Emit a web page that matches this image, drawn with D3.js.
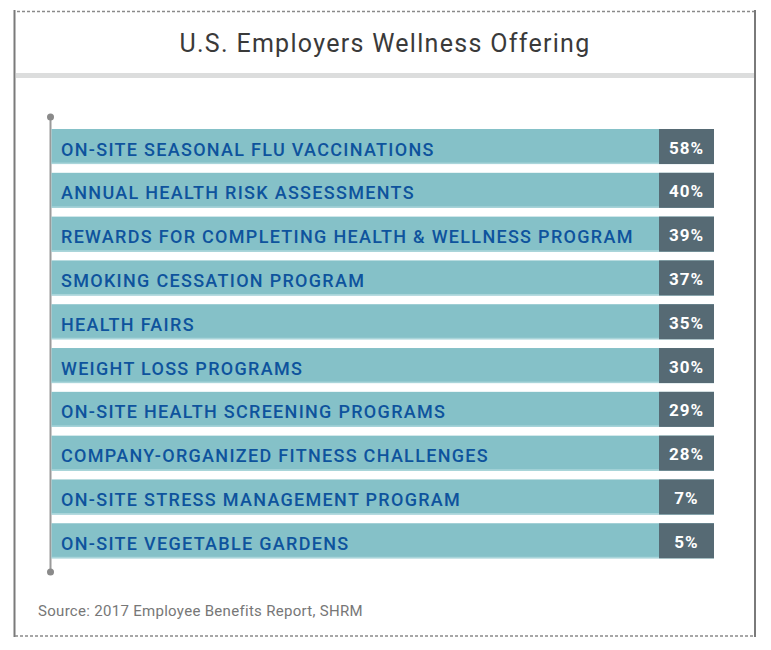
<!DOCTYPE html>
<html>
<head>
<meta charset="utf-8">
<script src="https://cdn.jsdelivr.net/npm/d3@7"></script>
<style>
  html, body { margin: 0; padding: 0; background: #fff; }
  svg { display: block; }
</style>
</head>
<body>
<svg id="chart" width="771" height="650"></svg>
<script>
const title = "U.S. Employers Wellness Offering";
const source = "Source: 2017 Employee Benefits Report, SHRM";
const categories = [
  "ON-SITE SEASONAL FLU VACCINATIONS",
  "ANNUAL HEALTH RISK ASSESSMENTS",
  "REWARDS FOR COMPLETING HEALTH & WELLNESS PROGRAM",
  "SMOKING CESSATION PROGRAM",
  "HEALTH FAIRS",
  "WEIGHT LOSS PROGRAMS",
  "ON-SITE HEALTH SCREENING PROGRAMS",
  "COMPANY-ORGANIZED FITNESS CHALLENGES",
  "ON-SITE STRESS MANAGEMENT PROGRAM",
  "ON-SITE VEGETABLE GARDENS"
];
const values = [58, 40, 39, 37, 35, 30, 29, 28, 7, 5];

const svg = d3.select("#chart");

// Frame
const frame = svg.append("g");
frame.append("line").attr("x1", 14.5).attr("x2", 14.5).attr("y1", 10).attr("y2", 637)
  .attr("stroke", "#7a7a7a").attr("stroke-width", 2);
frame.append("line").attr("x1", 755).attr("x2", 755).attr("y1", 10).attr("y2", 637)
  .attr("stroke", "#7a7a7a").attr("stroke-width", 2);
frame.append("line").attr("x1", 17).attr("x2", 754).attr("y1", 11.5).attr("y2", 11.5)
  .attr("stroke", "#8a8a8a").attr("stroke-width", 1.5).attr("stroke-dasharray", "3,2");
frame.append("line").attr("x1", 15).attr("x2", 754).attr("y1", 636).attr("y2", 636)
  .attr("stroke", "#8a8a8a").attr("stroke-width", 1.5).attr("stroke-dasharray", "3,2");
frame.append("rect").attr("x", 16).attr("y", 73).attr("width", 738).attr("height", 5)
  .attr("fill", "#dcdddd");

// Title
svg.append("text").attr("x", 385).attr("y", 52).attr("text-anchor", "middle")
  .attr("font-family", "Roboto, 'Noto Sans', sans-serif").attr("font-size", 25)
  .attr("letter-spacing", 1.3)
  .attr("fill", "#3a3a3a").text(title);

// Scales
const y = d3.scaleBand().domain(categories).range([129, 558.3]).paddingInner(0.2).paddingOuter(0);
const x = d3.scaleLinear().domain([0, 1]).range([51.5, 714]);
const valueBoxStart = 0.917;

const data = categories.map((c, i) => ({ cat: c, val: values[i] }));

// Axis line with dots
svg.append("line").attr("x1", 50.5).attr("x2", 50.5).attr("y1", 117).attr("y2", 572)
  .attr("stroke", "#9a9a9a").attr("stroke-width", 2);
svg.append("circle").attr("cx", 50.5).attr("cy", 117).attr("r", 3.5).attr("fill", "#8a8a8a");
svg.append("circle").attr("cx", 50.5).attr("cy", 572).attr("r", 3.5).attr("fill", "#8a8a8a");

const rows = svg.append("g").selectAll("g").data(data).join("g");

rows.append("rect")
  .attr("x", x(0)).attr("y", d => y(d.cat))
  .attr("width", x(1) - x(0)).attr("height", y.bandwidth())
  .attr("fill", "#85c1c8");
rows.append("rect")
  .attr("x", x(0)).attr("y", d => y(d.cat) + y.bandwidth() - 1.5)
  .attr("width", x(1) - x(0)).attr("height", 1.5)
  .attr("fill", "#a9d5da");
rows.append("rect")
  .attr("x", x(valueBoxStart)).attr("y", d => y(d.cat))
  .attr("width", x(1) - x(valueBoxStart)).attr("height", y.bandwidth())
  .attr("fill", "#566a74");

rows.append("text")
  .attr("x", 61).attr("y", d => y(d.cat) + 26.5)
  .attr("font-family", "Roboto, 'Noto Sans', sans-serif").attr("font-size", 18)
  .attr("font-weight", 500).attr("letter-spacing", 1.3)
  .attr("fill", "#0e539d").text(d => d.cat);

rows.append("text")
  .attr("x", (x(valueBoxStart) + x(1)) / 2).attr("y", d => y(d.cat) + 24.5)
  .attr("text-anchor", "middle")
  .attr("font-family", "Roboto, 'Noto Sans', sans-serif").attr("font-size", 17)
  .attr("font-weight", 700).attr("letter-spacing", 1)
  .attr("fill", "#ffffff").text(d => d.val + "%");

// Source
svg.append("text").attr("x", 38).attr("y", 615.5)
  .attr("font-family", "Roboto, 'Noto Sans', sans-serif").attr("font-size", 15)
  .attr("letter-spacing", 0.3)
  .attr("fill", "#777777").text(source);
</script>
</body>
</html>
